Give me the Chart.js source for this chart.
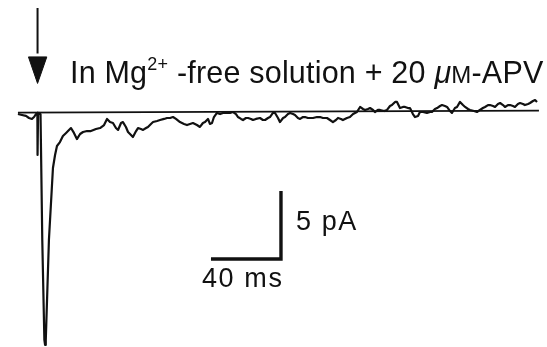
<!DOCTYPE html>
<html>
<head>
<meta charset="utf-8">
<script src="https://cdn.jsdelivr.net/npm/chart.js@4/dist/chart.umd.min.js"></script>
<style>
  html, body { margin: 0; padding: 0; background: #fff; }
  #wrap { position: relative; width: 547px; height: 347px; overflow: hidden; }
  #trace { position: absolute; left: 0; top: 0; }
  .lbl { position: absolute; font-family: "Liberation Sans", Arial, sans-serif; color: #111; line-height: 1; white-space: nowrap; }
  #title { left: 70px; top: 57px; font-size: 30.5px; letter-spacing: 0.2px; }
  #title sup { font-size: 18px; position: relative; top: -2px; vertical-align: top; }
  #title .mu { font-style: italic; }
  #title .sc { font-size: 24px; }
  #ylbl { left: 296px; top: 208px; font-size: 27px; letter-spacing: 1.6px; }
  #xlbl { left: 202px; top: 265px; font-size: 27px; letter-spacing: 1.6px; }
</style>
</head>
<body>
<div id="wrap">
  <canvas id="trace" width="547" height="347"></canvas>
  <div class="lbl" id="title">In Mg<sup>2+</sup> -free solution + 20 <span class="mu">μ</span><span class="sc">M</span>-APV</div>
  <div class="lbl" id="ylbl">5 pA</div>
  <div class="lbl" id="xlbl">40 ms</div>
</div>
<script>
// Synaptic current recorded after stimulation (time in ms from stimulus, current in pA)
const traceTimeMs = [
  -12.6, -10.3, -8.0, -6.3, -4.6, -3.4, -2.3, -1.5, -1.4, -1.1, -0.6, 0.3,
  1.3, 2.5, 2.9, 3.3, 4.2, 5.1, 6.7, 7.4, 8.6, 9.7, 11.4, 13.1, 14.9, 16.0,
  17.7, 19.4, 21.1, 22.9, 24.6, 26.9, 29.1, 32.0, 34.3, 36.6, 38.3, 40.0,
  41.7, 43.4, 44.6, 46.3, 47.4, 49.1, 50.3, 52.0, 53.1, 54.9, 56.0, 57.7,
  58.9, 60.6, 61.7, 63.4, 64.6, 66.9, 68.6, 70.9, 72.6, 74.3, 76.0, 77.7,
  80.0, 82.3, 84.0, 85.7, 87.4, 89.7, 91.4, 93.1, 94.3, 96.0, 97.1, 98.3,
  99.4, 101.1, 102.9, 104.6, 106.9, 108.6, 110.3, 112.0, 113.1, 114.9, 116.0,
  117.7, 118.9, 120.6, 121.7, 123.4, 125.7, 127.4, 128.6, 130.3, 131.4, 133.1,
  134.3, 136.0, 137.1, 138.9, 140.0, 141.7, 142.9, 144.6, 145.7, 147.4, 148.6,
  150.3, 151.4, 153.1, 154.3, 156.0, 158.3, 160.0, 161.7, 164.0, 165.7, 167.4,
  169.1, 170.3, 172.0, 173.1, 175.4, 177.1, 178.9, 181.1, 182.9, 184.6, 185.7,
  187.4, 188.6, 190.3, 191.4, 193.1, 194.3, 196.6, 198.3, 200.0, 201.1, 202.9,
  204.0, 205.7, 207.4, 208.6, 210.3, 211.4, 213.1, 214.3, 216.0, 217.1, 218.9,
  221.1, 222.9, 224.0, 225.7, 226.9, 228.6, 229.7, 231.4, 232.6, 234.3, 235.4,
  237.1, 238.3, 240.0, 241.7, 242.9, 244.6, 245.7, 248.0, 249.7, 251.4, 253.1,
  254.3, 256.0, 257.1, 258.9, 260.0, 261.7, 262.9, 264.6, 265.7, 267.4, 268.6,
  270.3, 271.4, 273.1, 274.3, 276.0, 277.1, 278.9, 280.0, 281.7, 282.9, 284.0
];
const traceCurrentPA = [
  -0.15, -0.22, -0.29, -0.44, -0.51, -0.37, -0.15, -0.07, -3.16, -0.15, -0.07, -0.15,
  -9.41, -16.76, -17.13, -16.76, -13.09, -9.41, -5.74, -4.12, -3.16, -2.50, -2.21, -1.76, -1.54, -1.40,
  -1.18, -1.54, -1.99, -1.62, -1.47, -1.40, -1.40, -1.25, -1.18, -0.96, -0.51, -0.74,
  -0.81, -1.18, -1.32, -0.81, -0.74, -1.10, -1.47, -1.69, -1.84, -1.40, -1.18, -1.25,
  -1.32, -1.18, -1.10, -0.88, -0.74, -0.66, -0.59, -0.51, -0.44, -0.44, -0.37, -0.51,
  -0.74, -0.88, -0.96, -0.88, -0.81, -0.96, -1.10, -0.81, -0.74, -0.51, -0.88, -0.81,
  -0.37, -0.07, -0.15, -0.07, -0.07, -0.07, 0.00, -0.15, -0.37, -0.51, -0.59,
  -0.44, -0.44, -0.51, -0.59, -0.51, -0.44, -0.59, -0.59, -0.44, -0.37, -0.07,
  -0.07, -0.44, -0.74, -0.44, -0.37, -0.15, -0.07, -0.15, -0.22, -0.44, -0.51,
  -0.37, -0.37, -0.44, -0.44, -0.44, -0.37, -0.37, -0.44, -0.44, -0.59, -0.74,
  -0.59, -0.44, -0.51, -0.59, -0.44, -0.37, -0.15, 0.00, 0.37, 0.22, 0.15,
  0.22, 0.29, 0.15, 0.00, 0.15, 0.15, 0.07, 0.15, 0.44, 0.51, 0.74,
  0.74, 0.29, 0.37, 0.37, 0.29, 0.29, -0.15, -0.37, -0.29, 0.00, 0.00,
  -0.07, 0.00, 0.00, 0.22, 0.29, 0.44, 0.51, 0.44, 0.37, 0.07, -0.07,
  0.29, 0.37, 0.74, 0.51, 0.37, 0.22, 0.15, 0.07, 0.00, 0.15, 0.29,
  0.37, 0.51, 0.51, 0.44, 0.37, 0.59, 0.66, 0.51, 0.37, 0.51, 0.51,
  0.44, 0.37, 0.59, 0.66, 0.59, 0.51, 0.59, 0.66, 0.81, 0.88, 0.74
];

// Zero-current reference line
const baselineTimeMs = [-12.6, 285.1];
const baselineCurrentPA = [-0.05, 0.1];

// Calibration bars: 40 ms horizontal, 5 pA vertical
const scaleBarTimeMs = [97.7, 137.7, 137.7];
const scaleBarCurrentPA = [-10.81, -10.81, -5.81];

// Stimulus marker (arrow shaft and head)
const arrowShaftTimeMs = [-1.4, -1.4];
const arrowShaftCurrentPA = [7.65, 4.3];
const arrowHeadTimeMs = [-1.4, -6.6, 3.9, -1.4];
const arrowHeadCurrentPA = [2.1, 4.05, 4.05, 2.1];

const pts = (xs, ys) => xs.map((x, i) => ({ x, y: ys[i] }));
const ink = '#111';

new Chart(document.getElementById('trace'), {
  type: 'line',
  data: {
    datasets: [
      { data: pts(baselineTimeMs, baselineCurrentPA), borderColor: ink, borderWidth: 1.9, pointRadius: 0 },
      { data: pts(traceTimeMs, traceCurrentPA), borderColor: ink, borderWidth: 2.2, pointRadius: 0, borderJoinStyle: 'round' },
      { data: pts(scaleBarTimeMs, scaleBarCurrentPA), borderColor: ink, borderWidth: 3.4, pointRadius: 0, borderJoinStyle: 'miter', borderCapStyle: 'butt' },
      { data: pts(arrowShaftTimeMs, arrowShaftCurrentPA), borderColor: ink, borderWidth: 2, pointRadius: 0 },
      { data: pts(arrowHeadTimeMs, arrowHeadCurrentPA), borderColor: ink, borderWidth: 1, pointRadius: 0, fill: 'shape', backgroundColor: ink }
    ]
  },
  options: {
    responsive: false,
    animation: false,
    events: [],
    layout: { padding: 0 },
    elements: { line: { tension: 0 } },
    plugins: { legend: { display: false }, tooltip: { enabled: false } },
    scales: {
      x: { type: 'linear', display: false, min: -22.857, max: 289.714 },
      y: { type: 'linear', display: false, min: -17.28, max: 8.235 }
    }
  }
});
</script>
</body>
</html>
